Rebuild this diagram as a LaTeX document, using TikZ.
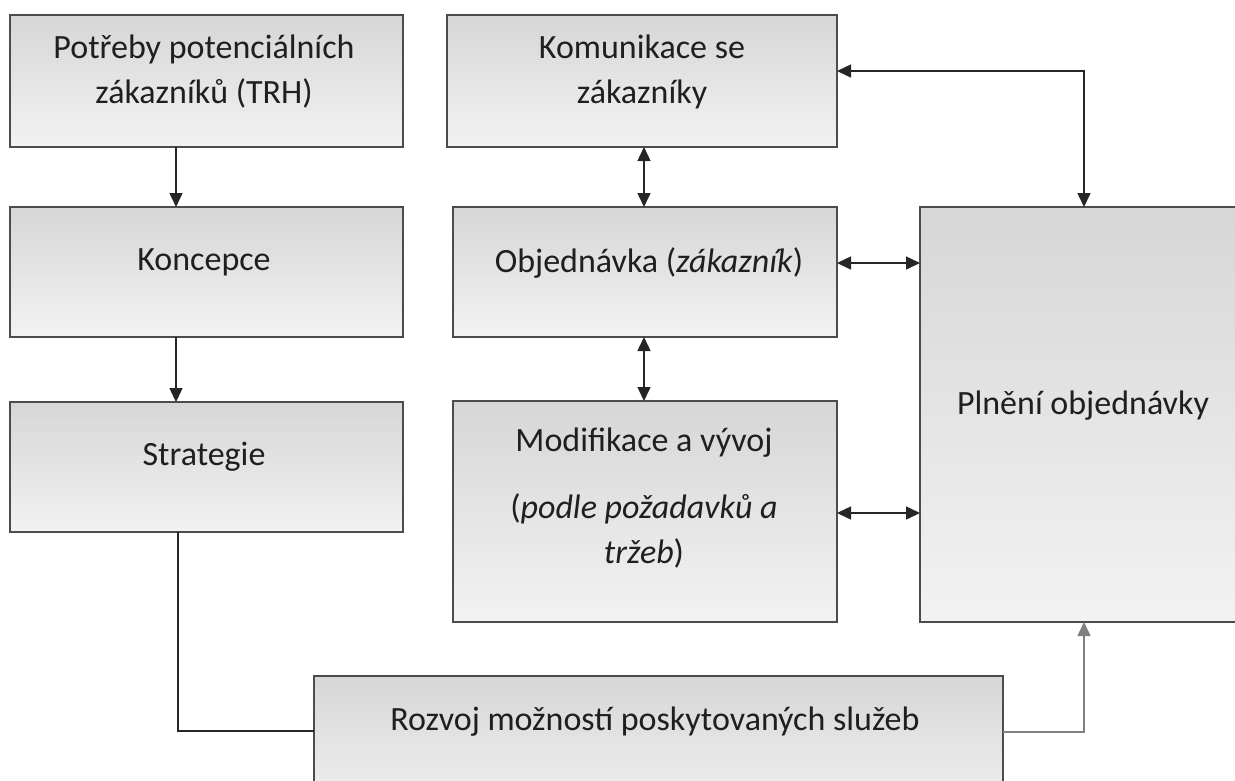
\documentclass[tikz,border=0pt]{standalone}
\usepackage{fontspec}
\setmainfont{Carlito}
\usetikzlibrary{arrows.meta}
\tikzset{
  box/.style={draw=black!70, line width=1.3pt, top color=black!16, bottom color=black!5,
    anchor=north west, inner sep=0pt, outer sep=0pt},
  lbl/.style={font=\fontsize{34}{45}\selectfont, align=center, text=black!88, inner sep=0pt},
  link/.style={line width=1.5pt, draw=black!85, -{Triangle[length=14pt,width=13pt]}},
  dlink/.style={line width=1.5pt, draw=black!85, {Triangle[length=14pt,width=13pt]}-{Triangle[length=14pt,width=13pt]}},
  plain/.style={line width=1.5pt, draw=black!85},
}
\begin{document}
\begin{tikzpicture}[x=1pt,y=-1pt]
\useasboundingbox (0,0) rectangle (1235,780);
\clip (0,0) rectangle (1235,780);
% left column
\node[box, minimum width=393pt, minimum height=132pt] (trh) at (10,15) {};
\node[box, minimum width=393pt, minimum height=130pt] (konc) at (10,207) {};
\node[box, minimum width=393pt, minimum height=130pt] (strat) at (10,402) {};
% middle column
\node[box, minimum width=390pt, minimum height=132pt] (kom) at (447,15) {};
\node[box, minimum width=384pt, minimum height=130pt] (obj) at (453,207) {};
\node[box, minimum width=384pt, minimum height=221pt] (mod) at (453,401) {};
% right column (runs past the edge)
\node[box, minimum width=340pt, minimum height=415pt] (pln) at (920,207) {};
% bottom box (runs past the edge)
\node[box, minimum width=689pt, minimum height=140pt] (roz) at (314,676) {};

% texts
\node[lbl] (ttrh) at (204,72) {Potřeby potenciálních\\zákazníků (TRH)};
\node[lbl] (tkonc) at (204,262) {Koncepce};
\node[lbl] (tstrat) at (204,457) {Strategie};
\node[lbl] (tkom) at (642,72) {Komunikace se\\zákazníky};
\node[lbl] (tobj) at (649,263) {Objednávka (\textit{zákazník})};
\node[lbl, anchor=north] (tmod) at (644,428) {Modifikace a vývoj\\[22pt]
  (\textit{podle požadavků a}\\\textit{tržeb})};
\node[lbl] (tpln) at (1083,406) {Plnění objednávky};
\node[lbl] (troz) at (655,722) {Rozvoj možností poskytovaných služeb};

% connectors
\draw[link] (trh.south -| 176,0) -- (konc.north -| 176,0);
\draw[link] (konc.south -| 176,0) -- (strat.north -| 176,0);
\draw[dlink] (kom.south -| 644,0) -- (obj.north -| 644,0);
\draw[dlink] (obj.south -| 644,0) -- (mod.north -| 644,0);
\draw[dlink] (obj.east |- 0,263) -- (pln.west |- 0,263);
\draw[dlink] (mod.east |- 0,513) -- (pln.west |- 0,513);
\coordinate (kc) at (1084,71);
\draw[dlink] (kom.east |- kc) -- (kc) -- (pln.north -| kc);
\draw[plain] (strat.south -| 178,0) -- (178,731) -- (roz.west |- 0,731);
\coordinate (rc) at (1084,732);
\draw[line width=1.5pt, draw=black!50, -{Triangle[length=14pt,width=13pt]}]
  (roz.east |- rc) -- (rc) -- (pln.south -| rc);
\end{tikzpicture}
\end{document}
